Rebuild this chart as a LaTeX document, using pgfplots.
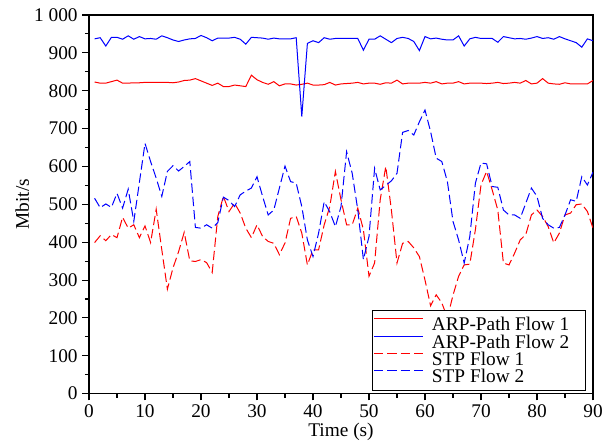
\documentclass[border=0pt]{standalone}
\usepackage{fontspec}
\setmainfont{Liberation Serif}
\usepackage{pgfplots}
\usepackage{pgfplotstable}
\pgfplotsset{compat=1.18}
\definecolor{arpred}{RGB}{255,0,0}
\definecolor{arpblue}{RGB}{0,0,255}

% t  arp1  arp2  stp1  stp2
\pgfplotstableread{
t a1 a2 s1 s2
1 823 937 399 516
2 820 940 417 491
3 820 918 404 501
4 824 941 420 492
5 828 941 412 529
6 820 936 466 490
7 820 945 437 540
8 821 936 446 455
9 821 943 412 558
10 822 937 443 661
11 822 938 399 613
12 822 936 487 569
13 822 945 380 521
14 822 940 276 587
15 821 934 332 602
16 823 930 375 588
17 827 934 426 600
18 828 937 351 613
19 832 938 349 439
20 826 946 354 437
21 820 940 346 446
22 814 932 320 437
23 820 939 468 452
24 811 939 521 519
25 811 939 481 510
26 815 941 503 494
27 813 936 477 525
28 811 923 437 535
29 841 941 412 543
30 829 940 446 573
31 822 939 415 521
32 817 936 402 472
33 824 939 397 485
34 813 937 367 543
35 818 937 398 601
36 818 937 463 560
37 815 940 468 556
38 817 732 424 494
39 820 925 340 406
40 815 932 380 362
41 815 927 380 424
42 816 940 446 507
43 822 936 494 480
44 815 938 587 441
45 818 938 512 494
46 819 938 446 639
47 820 938 446 582
48 822 938 490 485
49 818 907 433 354
50 820 936 310 415
51 820 936 345 595
52 817 945 512 538
53 821 936 600 550
54 820 927 485 562
55 828 938 345 582
56 818 941 397 690
57 820 938 402 695
58 820 930 385 683
59 820 906 362 718
60 822 943 300 749
61 820 937 232 692
62 824 939 261 622
63 818 936 240 613
64 820 934 200 560
65 820 934 260 455
66 824 945 310 406
67 818 918 340 345
68 820 937 342 415
69 820 941 433 556
70 820 938 551 609
71 819 938 587 607
72 820 938 538 547
73 822 928 485 545
74 819 943 345 485
75 820 940 340 472
76 822 937 371 472
77 820 938 406 463
78 827 936 420 503
79 818 939 472 543
80 820 943 485 521
81 832 938 468 463
82 820 940 441 446
83 818 936 398 437
84 817 943 424 439
85 821 937 472 472
86 818 932 477 512
87 818 927 499 508
88 818 915 501 573
89 818 937 481 551
90 827 932 437 585
}\flows

\begin{document}
\begin{tikzpicture}
\begin{axis}[
    width=378pt, height=284pt, scale only axis,
    xmin=0, xmax=90, ymin=0, ymax=1000,
    xtick distance=10, ytick distance=100,
    minor x tick num=1, minor y tick num=1,
    tick align=outside, xtick pos=bottom, ytick pos=left,
    major tick length=5pt, minor tick length=3pt,
    axis line style={line width=1pt}, tick style={black, line width=0.8pt},
    /pgf/number format/assume math mode=true,
    /pgf/number format/1000 sep={\ },
    font=\fontsize{14.5}{16}\selectfont,
    xticklabel style={text depth=0pt},
    xlabel={Time (s)}, ylabel={Mbit/s},
    xlabel style={at={(axis description cs:0.5,-0.101)}, anchor=center},
    ylabel style={at={(axis description cs:-0.1323,0.5)}, anchor=center},
    legend style={at={(rel axis cs:0.986,0.008)}, anchor=south east,
        draw=black, line width=0.8pt, fill=white, inner xsep=1pt, inner ysep=5.5pt,
        nodes={inner ysep=0pt, text height=10pt, text depth=0pt},
        row sep=3pt, column sep=4pt, font=\fontsize{14.5}{15}\selectfont},
    legend cell align=left,
    legend image code/.code={\draw[#1] (0pt,4pt) -- (37pt,4pt);},
]
\addplot[arpred, line width=0.75pt] table[x=t, y=a1] {\flows};
\addlegendentry{ARP-Path Flow 1\hspace*{9pt}}
\addplot[arpblue, line width=0.75pt] table[x=t, y=a2] {\flows};
\addlegendentry{ARP-Path Flow 2\hspace*{9pt}}
\addplot[arpred, line width=0.75pt, dash pattern=on 7pt off 3pt] table[x=t, y=s1] {\flows};
\addlegendentry{STP Flow 1}
\addplot[arpblue, line width=0.75pt, dash pattern=on 7pt off 3pt] table[x=t, y=s2] {\flows};
\addlegendentry{STP Flow 2}
\end{axis}
\path ([xshift=-66.75pt,yshift=-36.75pt]current axis.south west)
    rectangle ([xshift=13.5pt,yshift=11.25pt]current axis.north east);
\end{tikzpicture}
\end{document}
